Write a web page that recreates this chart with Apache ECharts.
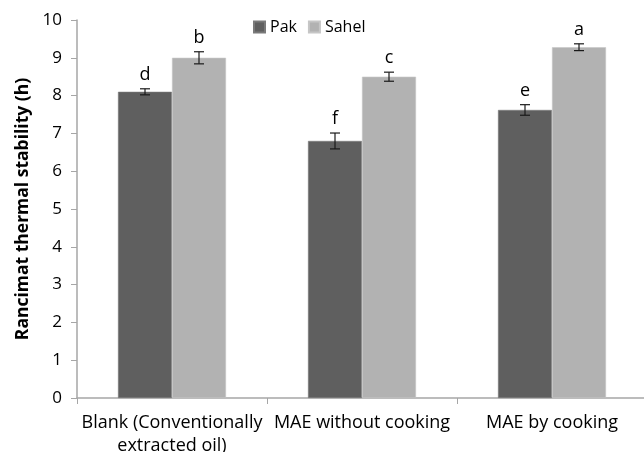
<!DOCTYPE html>
<html>
<head>
<meta charset="utf-8">
<script src="https://cdn.jsdelivr.net/npm/echarts@6/dist/echarts.min.js"></script>
<style>
  html, body { margin: 0; padding: 0; background: #fff; }
  #chart { width: 644px; height: 452px; }
</style>
</head>
<body>
<div id="chart"></div>
<script>
// Rancimat thermal stability of oils from two cultivars
const categories = ['Blank (Conventionally\nextracted oil)', 'MAE without cooking', 'MAE by cooking'];
const pakValues = [8.1, 6.8, 7.62];
const sahelValues = [9.0, 8.5, 9.28];
const pakErrors = [0.08, 0.21, 0.14];
const sahelErrors = [0.16, 0.12, 0.09];
const pakLetters = ['d', 'f', 'e'];
const sahelLetters = ['b', 'c', 'a'];
const yTicks = [0, 1, 2, 3, 4, 5, 6, 7, 8, 9, 10];

const FONT = '"Open Sans"';
const BAR_W = 54;

// Error bar with its significance letter, offset to sit on its own bar
function errorRenderer(offset) {
  return function (params, api) {
    const cat = api.value(0);
    const val = api.value(1);
    const err = api.value(2);
    const letter = api.value(3);
    const hi = api.coord([cat, val + err]);
    const lo = api.coord([cat, val - err]);
    const x = hi[0] + offset;
    const cap = 5;
    const style = { stroke: '#1a1a1a', lineWidth: 1.2 };
    return {
      type: 'group',
      children: [
        { type: 'line', shape: { x1: x, y1: hi[1], x2: x, y2: lo[1] }, style: style },
        { type: 'line', shape: { x1: x - cap, y1: hi[1], x2: x + cap, y2: hi[1] }, style: style },
        { type: 'line', shape: { x1: x - cap, y1: lo[1], x2: x + cap, y2: lo[1] }, style: style },
        {
          type: 'text',
          style: {
            text: letter, x: x, y: hi[1] - 5,
            textAlign: 'center', textVerticalAlign: 'bottom',
            font: '18px ' + FONT, fill: '#000'
          }
        }
      ]
    };
  };
}

const chart = echarts.init(document.getElementById('chart'));
chart.setOption({
  animation: false,
  textStyle: { fontFamily: FONT },
  legend: {
    data: ['Pak', 'Sahel'],
    left: 248, top: 14,
    itemWidth: 11, itemHeight: 11, itemGap: 11,
    icon: 'rect',
    textStyle: { fontSize: 16, color: '#000', fontFamily: FONT }
  },
  grid: {
    left: 77, top: 20, bottom: 54, width: 570,
    containLabel: false, outerBoundsMode: 'none'
  },
  xAxis: {
    type: 'category', data: categories,
    axisLine: { show: true, lineStyle: { color: '#a6a6a6', width: 1.5 } },
    axisTick: { show: true, length: 6, lineStyle: { color: '#a6a6a6' } },
    axisLabel: { interval: 0, fontSize: 18, color: '#000', margin: 13, lineHeight: 23, fontFamily: FONT }
  },
  yAxis: {
    type: 'value', min: 0, max: 10, interval: 1,
    name: 'Rancimat thermal stability (h)',
    nameLocation: 'middle', nameGap: 45,
    nameTextStyle: { fontSize: 17.5, fontWeight: 'bold', color: '#000', fontFamily: FONT },
    axisLine: { show: true, lineStyle: { color: '#a6a6a6', width: 1.5 } },
    axisTick: { show: true, length: 6, lineStyle: { color: '#a6a6a6' } },
    axisLabel: {
      fontSize: 17, color: '#000', margin: 15, fontFamily: FONT,
      formatter: function (v) { return yTicks.indexOf(v) >= 0 ? String(v) : ''; }
    },
    splitLine: { show: false }
  },
  series: [
    {
      name: 'Pak', type: 'bar',
      data: pakValues, barWidth: BAR_W, barGap: '0%',
      itemStyle: { color: '#5f5f5f', borderColor: '#7a7a7a', borderWidth: 0.6 }
    },
    {
      name: 'Sahel', type: 'bar',
      data: sahelValues, barWidth: BAR_W, barGap: '0%',
      itemStyle: { color: '#b2b2b2', borderColor: '#c6c6c6', borderWidth: 0.6 }
    },
    {
      type: 'custom', z: 5,
      renderItem: errorRenderer(-BAR_W / 2),
      data: pakValues.map((v, i) => [i, v, pakErrors[i], pakLetters[i]])
    },
    {
      type: 'custom', z: 5,
      renderItem: errorRenderer(BAR_W / 2),
      data: sahelValues.map((v, i) => [i, v, sahelErrors[i], sahelLetters[i]])
    }
  ]
});
</script>
</body>
</html>
